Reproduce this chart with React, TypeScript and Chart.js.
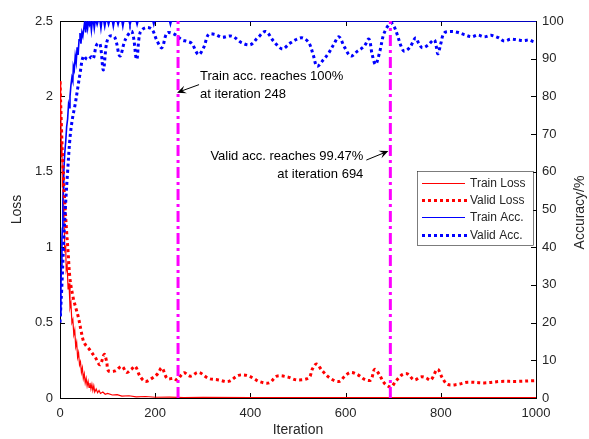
import React, { useEffect, useRef } from "react";
import { Chart, registerables } from "chart.js";

Chart.register(...registerables);

// ---------- data ----------
const trainLossIter = [0, 1, 2, 3, 4, 5, 6, 7, 8, 10, 12, 13, 15, 17, 19, 21, 23, 25, 27, 29, 31, 33, 35, 37, 39, 41, 43, 45, 47, 49, 51, 53, 55, 57, 59, 61, 63, 65, 67, 69, 71, 73, 76, 79, 82, 85, 90, 95, 100, 110, 120, 130, 145, 160, 180, 200, 230, 260, 300, 400, 500, 600, 700, 800, 900, 1000];
const trainLoss = [2.1, 1.85, 1.95, 1.6, 1.7, 1.4, 1.45, 1.2, 1.25, 0.98, 1.0, 0.85, 0.88, 0.72, 0.76, 0.6, 0.63, 0.5, 0.52, 0.42, 0.45, 0.34, 0.37, 0.27, 0.3, 0.22, 0.24, 0.17, 0.2, 0.13, 0.16, 0.1, 0.13, 0.08, 0.11, 0.07, 0.1, 0.06, 0.09, 0.05, 0.08, 0.04, 0.06, 0.035, 0.05, 0.03, 0.04, 0.025, 0.03, 0.02, 0.022, 0.012, 0.015, 0.008, 0.01, 0.005, 0.006, 0.003, 0.004, 0.002, 0.003, 0.002, 0.002, 0.003, 0.002, 0.002];

const validLossIter = [0, 3, 6, 10, 14, 17, 21, 28, 33, 39, 44, 49, 54, 60, 67, 74, 84, 93, 98, 102, 116, 130, 140, 150, 158, 168, 179, 193, 205, 214, 225, 239, 246, 260, 274, 291, 312, 333, 354, 375, 393, 407, 418, 439, 456, 477, 498, 523, 530, 539, 551, 568, 586, 600, 611, 625, 642, 653, 661, 670, 681, 695, 705, 719, 730, 744, 758, 768, 779, 793, 803, 814, 835, 856, 891, 926, 961, 996, 1000];
const validLoss = [2.1, 1.8, 1.55, 1.3, 1.1, 0.97, 0.79, 0.66, 0.6, 0.53, 0.45, 0.38, 0.35, 0.33, 0.3, 0.27, 0.22, 0.29, 0.24, 0.18, 0.18, 0.21, 0.17, 0.19, 0.21, 0.145, 0.11, 0.13, 0.16, 0.2, 0.13, 0.13, 0.12, 0.167, 0.145, 0.17, 0.13, 0.12, 0.11, 0.15, 0.15, 0.13, 0.11, 0.1, 0.145, 0.14, 0.12, 0.135, 0.19, 0.226, 0.18, 0.13, 0.11, 0.15, 0.17, 0.155, 0.12, 0.12, 0.19, 0.16, 0.1, 0.073, 0.11, 0.155, 0.16, 0.12, 0.14, 0.135, 0.12, 0.19, 0.135, 0.09, 0.09, 0.105, 0.1, 0.11, 0.11, 0.115, 0.115];

const trainAccIter = [0, 2, 3, 4, 5, 6, 7, 8, 10, 12, 14, 16, 18, 20, 21, 23, 25, 27, 28, 30, 32, 34, 36, 38, 40, 42, 44, 46, 48, 50, 52, 54, 56, 58, 60, 62, 64, 66, 68, 70, 72, 74, 76, 78, 80, 84, 86, 88, 92, 94, 96, 100, 102, 104, 110, 112, 114, 120, 122, 124, 130, 132, 134, 145, 147, 149, 160, 162, 164, 195, 197, 199, 230, 232, 234, 1000];
const trainAcc = [22, 30, 35, 42, 45, 52, 55, 60, 65, 68, 72, 74, 78, 77, 80, 83, 85, 84, 88, 87, 90.7, 89, 93, 91, 95, 96.8, 94, 97, 96, 98, 100, 97, 100, 98, 100, 99, 100, 97.5, 100, 100, 98, 100, 100, 99, 100, 100, 98, 100, 100, 98.5, 100, 100, 99, 100, 100, 98.5, 100, 100, 99, 100, 100, 98.5, 100, 100, 99, 100, 100, 99, 100, 100, 99, 100, 100, 99, 100, 100];

const validAccIter = [0, 4, 8, 12, 16, 21, 26, 32, 37, 42, 49, 55, 60, 66, 70, 77, 84, 91, 98, 105, 115, 126, 137, 151, 161, 168, 179, 193, 203, 214, 225, 240, 256, 267, 277, 291, 302, 312, 326, 340, 361, 382, 400, 415, 432, 449, 467, 482, 498, 510, 523, 532, 540, 552, 565, 576, 586, 598, 611, 625, 639, 649, 656, 663, 672, 681, 695, 702, 709, 716, 723, 735, 747, 754, 761, 772, 786, 790, 794, 800, 807, 821, 835, 849, 865, 877, 891, 905, 912, 922, 933, 947, 961, 975, 985, 996, 1000];
const validAcc = [20, 30, 42, 52, 60, 69, 74, 78, 82, 86, 90.7, 90, 89.8, 90.5, 90, 93.7, 94, 87, 94.2, 96, 95.7, 90.7, 95, 97.2, 89.8, 96.8, 98.2, 97.8, 95, 92.9, 96.8, 96.5, 95, 94.6, 94, 91.1, 93, 96.4, 96.4, 95.7, 96, 94.2, 93.7, 95.5, 97.2, 94.6, 92.6, 94, 95.2, 95.5, 94.2, 91, 88, 89.5, 91.6, 94, 95.8, 93, 90.7, 92, 93.3, 95.2, 91, 88.5, 92, 96.8, 99.47, 98.5, 96.2, 93.5, 92, 93, 95.5, 94, 92.9, 93.5, 95, 93.5, 91.3, 94, 96.8, 97.2, 97, 96.4, 95.8, 96.3, 95.8, 96.2, 96, 95.5, 94.7, 95.2, 95, 94.8, 95, 94.5, 94.6];

const markerIters = [248, 694];
const xTicks = [0, 200, 400, 600, 800, 1000];
const lossTicks = [0, 0.5, 1, 1.5, 2, 2.5];
const accTicks = [0, 10, 20, 30, 40, 50, 60, 70, 80, 90, 100];
const legendLabels = ["Train Loss", "Valid Loss", "Train Acc.", "Valid Acc."];
const noteTrain = ["Train acc. reaches 100%", "at iteration 248"];
const noteValid = ["Valid acc. reaches 99.47%", "at iteration 694"];
const noteTrainTipAcc = 81;
const noteValidTipAcc = 65.5;

const FONT = "'Liberation Sans', Arial, Helvetica, sans-serif";
const TEXT = "#262626";
const RED = "#ff0000";
const BLUE = "#0000ff";
const MAGENTA = "#ff00ff";

const seriesStyle = [
  { color: RED, width: 1.2, dotted: false },
  { color: RED, width: 3, dotted: true },
  { color: BLUE, width: 1.6, dotted: false },
  { color: BLUE, width: 3, dotted: true },
];

const zip = (xs: number[], ys: number[]) => xs.map((x, i) => ({ x, y: ys[i] }));

function arrow(ctx: CanvasRenderingContext2D, x1: number, y1: number, x2: number, y2: number) {
  const ang = Math.atan2(y2 - y1, x2 - x1);
  const L = 9, W = 4;
  ctx.save();
  ctx.strokeStyle = "#000";
  ctx.fillStyle = "#000";
  ctx.lineWidth = 1;
  ctx.setLineDash([]);
  ctx.beginPath();
  ctx.moveTo(x1, y1);
  ctx.lineTo(x2 - Math.cos(ang) * 5, y2 - Math.sin(ang) * 5);
  ctx.stroke();
  const bx = x2 - Math.cos(ang) * L, by = y2 - Math.sin(ang) * L;
  const nx = -Math.sin(ang), ny = Math.cos(ang);
  const mx = x2 - Math.cos(ang) * L * 0.6, my = y2 - Math.sin(ang) * L * 0.6;
  ctx.beginPath();
  ctx.moveTo(x2, y2);
  ctx.lineTo(bx + nx * W, by + ny * W);
  ctx.lineTo(mx, my);
  ctx.lineTo(bx - nx * W, by - ny * W);
  ctx.closePath();
  ctx.fill();
  ctx.restore();
}

const decorPlugin = {
  id: "decor",
  beforeDatasetsDraw(chart: any) {
    const ctx: CanvasRenderingContext2D = chart.ctx;
    const { left, right, top, bottom } = chart.chartArea;
    const xs = chart.scales.x, yl = chart.scales.yL, yr = chart.scales.yR;
    ctx.save();
    ctx.setLineDash([]);
    ctx.strokeStyle = "#000";
    ctx.lineWidth = 1;
    ctx.strokeRect(Math.round(left) + 0.5, Math.round(top) + 0.5, Math.round(right - left), Math.round(bottom - top));
    const T = 5;
    ctx.beginPath();
    xTicks.forEach((v) => {
      const px = Math.round(xs.getPixelForValue(v)) + 0.5;
      ctx.moveTo(px, bottom); ctx.lineTo(px, bottom - T);
      ctx.moveTo(px, top); ctx.lineTo(px, top + T);
    });
    lossTicks.forEach((v) => {
      const py = Math.round(yl.getPixelForValue(v)) + 0.5;
      ctx.moveTo(left, py); ctx.lineTo(left + T, py);
    });
    accTicks.forEach((v) => {
      const py = Math.round(yr.getPixelForValue(v)) + 0.5;
      ctx.moveTo(right, py); ctx.lineTo(right - T, py);
    });
    ctx.stroke();
    ctx.restore();
  },
  afterDatasetsDraw(chart: any) {
    const ctx: CanvasRenderingContext2D = chart.ctx;
    const { right, top, bottom } = chart.chartArea;
    const xs = chart.scales.x, yr = chart.scales.yR;
    ctx.save();
    ctx.setLineDash([]);

    // right axis title (reads bottom to top)
    ctx.fillStyle = TEXT;
    ctx.font = `14px ${FONT}`;
    ctx.textAlign = "center";
    ctx.textBaseline = "middle";
    ctx.save();
    ctx.translate(580, (top + bottom) / 2 + 3);
    ctx.rotate(-Math.PI / 2);
    ctx.fillText("Accuracy/%", 0, 0);
    ctx.restore();

    // annotations
    ctx.font = `13px ${FONT}`;
    ctx.fillStyle = "#000";
    const t1x = xs.getPixelForValue(markerIters[0]) - 1;
    const t1y = yr.getPixelForValue(noteTrainTipAcc);
    arrow(ctx, t1x + 22, t1y - 8, t1x, t1y);
    ctx.textAlign = "left";
    ctx.fillText(noteTrain[0], t1x + 23, t1y - 16);
    ctx.fillText(noteTrain[1], t1x + 23, t1y + 2);

    const t2x = xs.getPixelForValue(markerIters[1]) - 2;
    const t2y = yr.getPixelForValue(noteValidTipAcc);
    arrow(ctx, t2x - 22, t2y + 9, t2x, t2y);
    ctx.textAlign = "right";
    ctx.fillText(noteValid[0], t2x - 25, t2y + 5);
    ctx.fillText(noteValid[1], t2x - 25, t2y + 23);

    // legend
    const bx0 = Math.round(right - 119), by0 = Math.round(top + 150), bw = 116, bh = 74;
    ctx.fillStyle = "#fff";
    ctx.fillRect(bx0, by0, bw, bh);
    ctx.strokeStyle = "#262626";
    ctx.lineWidth = 0.6;
    ctx.strokeRect(bx0 + 0.5, by0 + 0.5, bw, bh);
    ctx.font = `12px ${FONT}`;
    ctx.textAlign = "left";
    legendLabels.forEach((lab, i) => {
      const st = seriesStyle[i];
      const y = Math.round(by0 + 11.5 + i * 17.4);
      ctx.fillStyle = st.color;
      if (st.dotted) {
        for (let x = bx0 + 5; x < bx0 + 48; x += 6) ctx.fillRect(x, y - 1, 3, 3);
      } else {
        ctx.fillRect(bx0 + 5, y, 43, 1);
      }
      ctx.fillStyle = TEXT;
      ctx.fillText(lab, bx0 + 53, y + 1);
    });
    ctx.restore();
  },
};

export default function App() {
  const ref = useRef<HTMLCanvasElement>(null);
  useEffect(() => {
    if (!ref.current) return;
    const tickFont = { family: FONT, size: 13 };
    const mk = (label: string, xs: number[], ys: number[], axis: string, i: number, tension: number, order: number) => ({
      label, data: zip(xs, ys), yAxisID: axis,
      borderColor: seriesStyle[i].color, borderWidth: seriesStyle[i].width,
      borderDash: seriesStyle[i].dotted ? [3, 3] : [],
      pointRadius: 0, tension, order,
    });
    const chart = new Chart(ref.current, {
      type: "line",
      data: {
        datasets: [
          mk(legendLabels[0], trainLossIter, trainLoss, "yL", 0, 0, 4),
          mk(legendLabels[1], validLossIter, validLoss, "yL", 1, 0.35, 2),
          mk(legendLabels[2], trainAccIter, trainAcc, "yR", 2, 0, 3),
          mk(legendLabels[3], validAccIter, validAcc, "yR", 3, 0.35, 1),
          ...markerIters.map((m) => ({ label: "m" + m, data: [{ x: m, y: 0 }, { x: m, y: 2.5 }], yAxisID: "yL", borderColor: MAGENTA, borderWidth: 3, borderDash: [11, 4, 3, 4], pointRadius: 0, order: 0 })),
        ],
      },
      options: {
        responsive: false,
        animation: false,
        layout: { padding: { top: 21, left: 0, right: 0, bottom: 0 } },
        plugins: { legend: { display: false }, tooltip: { enabled: false } },
        scales: {
          x: {
            type: "linear", min: 0, max: 1000,
            afterBuildTicks: (s: any) => { s.ticks = xTicks.map((v) => ({ value: v })); },
            afterFit: (s: any) => { s.height = 41; },
            grid: { display: false, drawTicks: false },
            border: { display: false },
            ticks: { color: TEXT, font: tickFont, padding: 8, maxRotation: 0, callback: (v: any) => String(v) },
            title: { display: true, text: "Iteration", color: TEXT, font: { family: FONT, size: 14 }, padding: { top: 0, bottom: 0 } },
          },
          yL: {
            type: "linear", position: "left", min: 0, max: 2.5,
            afterBuildTicks: (s: any) => { s.ticks = lossTicks.map((v) => ({ value: v })); },
            afterFit: (s: any) => { s.width = 60; },
            grid: { display: false, drawTicks: false },
            border: { display: false },
            ticks: { color: TEXT, font: tickFont, padding: 7, callback: (v: any) => String(v) },
            title: { display: true, text: "Loss", color: TEXT, font: { family: FONT, size: 14 }, padding: { top: 9, bottom: 0 } },
          },
          yR: {
            type: "linear", position: "right", min: 0, max: 100,
            afterBuildTicks: (s: any) => { s.ticks = accTicks.map((v) => ({ value: v })); },
            afterFit: (s: any) => { s.width = 53; },
            grid: { display: false, drawTicks: false },
            border: { display: false },
            ticks: { color: TEXT, font: tickFont, padding: 6, callback: (v: any) => String(v) },
          },
        },
      },
      plugins: [decorPlugin],
    } as any);
    return () => chart.destroy();
  }, []);
  return (
    <div style={{ position: "fixed", left: 0, top: 0, width: 589, height: 439, background: "#fff" }}>
      <canvas ref={ref} width={589} height={439} />
    </div>
  );
}
